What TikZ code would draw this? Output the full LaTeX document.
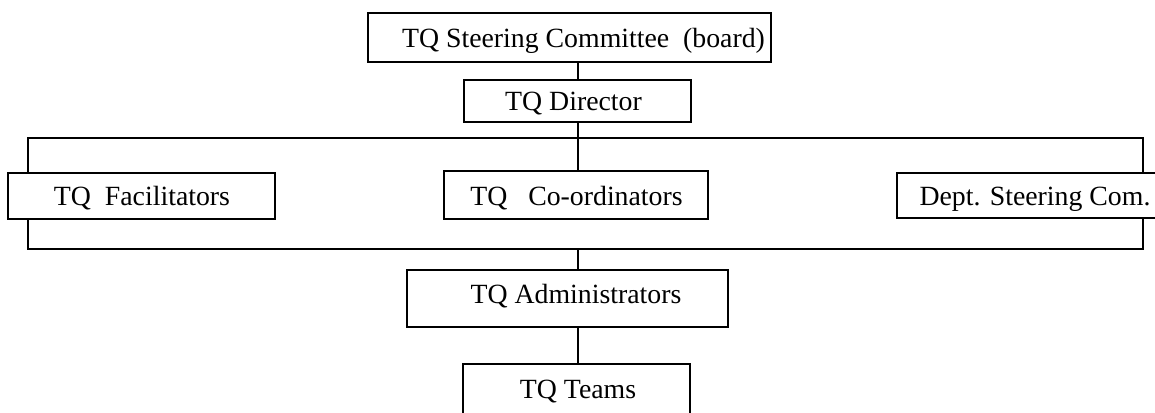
\documentclass[tikz,border=0pt]{standalone}
\usepackage{fontspec}
\setmainfont{Liberation Serif}
\begin{document}
\begin{tikzpicture}[x=0.5pt,y=-0.5pt,
  box/.style={draw=black, fill=white, line width=1.1pt, rectangle, inner sep=0pt},
  lbl/.style={anchor=base, inner sep=0pt, font=\fontsize{13.9}{16}\selectfont},
  conn/.style={line width=1.1pt}]
\useasboundingbox (0,0) rectangle (1155,412);
% frame and spine
\coordinate (spine) at (578,0);
\coordinate (fbl) at (28,249);
\coordinate (ftr) at (1143,138);
\draw[conn] (fbl) rectangle (ftr);
% boxes
\node[box, minimum width=201.5pt, minimum height=24.5pt] (sc) at (569.5,37.5) {};
\node[box, minimum width=113.5pt, minimum height=21pt] (dir) at (577.5,101) {};
\node[box, minimum width=133.5pt, minimum height=23pt] (fac) at (141.5,196) {};
\node[box, minimum width=132pt, minimum height=24pt] (coord) at (576,195) {};
\node[box, minimum width=131.5pt, minimum height=22.5pt] (dept) at (1028.5,195.5) {};
\node[box, minimum width=160.5pt, minimum height=28.5pt] (adm) at (567.5,298.5) {};
\node[box, minimum width=113.5pt, minimum height=33pt] (teams) at (576.5,397) {};
% labels
\node[lbl] (tsc) at (583.5,47) {TQ Steering Committee\ \ (board)};
\node[lbl] (tdir) at (573.5,110) {TQ Director};
\node[lbl] (tfac) at (142,205) {TQ\ \ Facilitators};
\node[lbl] (tcoord) at (576.5,205) {TQ\ \ \ Co-ordinators};
\node[lbl] (tdept) at (1035,205) {Dept. Steering Com.};
\node[lbl] (tadm) at (576,303) {TQ Administrators};
\node[lbl] (tteams) at (578,398) {TQ Teams};
% connectors
\draw[conn] (sc.south -| spine) -- (dir.north -| spine);
\draw[conn] (dir.south -| spine) -- (ftr -| spine);
\draw[conn] (ftr -| spine) -- (coord.north -| spine);
\draw[conn] (fbl -| spine) -- (adm.north -| spine);
\draw[conn] (adm.south -| spine) -- (teams.north -| spine);
\end{tikzpicture}
\end{document}
